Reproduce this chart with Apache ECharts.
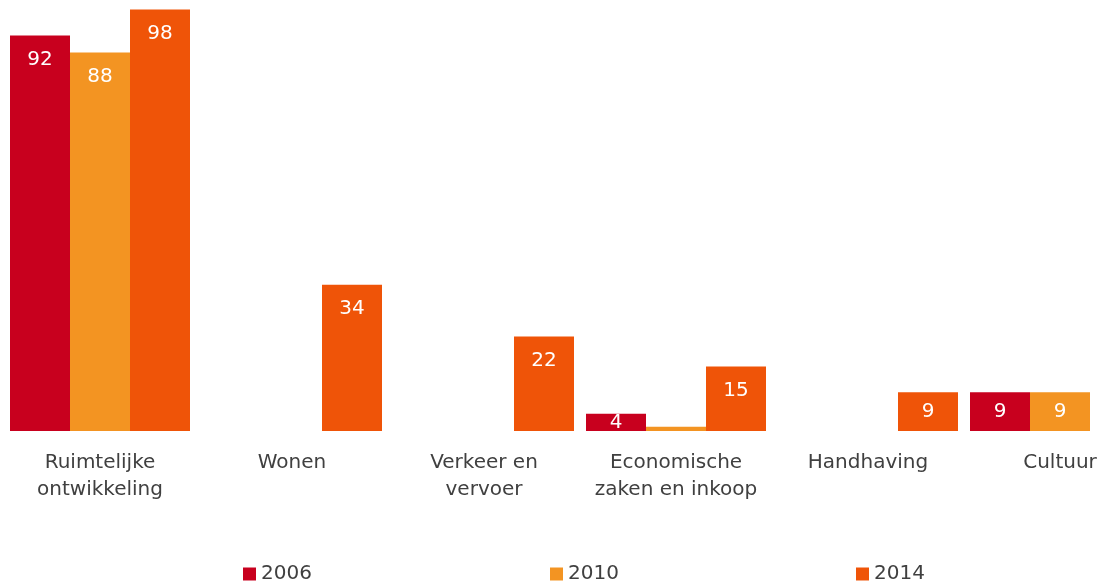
<!DOCTYPE html>
<html>
<head>
<meta charset="utf-8">
<script src="https://cdn.jsdelivr.net/npm/echarts@6/dist/echarts.min.js"></script>
<style>
  html, body { margin: 0; padding: 0; background: #fff; }
  #main { width: 1113px; height: 586px; }
</style>
</head>
<body>
<div id="main"></div>
<script>
// categorieën en waarden
var categories = ["Ruimtelijke\nontwikkeling", "Wonen", "Verkeer en\nvervoer", "Economische\nzaken en inkoop", "Handhaving", "Cultuur"]
var values2006 = [92, "-", "-", 4, "-", 9]
var values2010 = [88, "-", "-", 1, "-", 9]
var values2014 = [98, 34, 22, 15, 9, "-"]

var colors = ["#C8001E", "#F39422", "#EF5408"]
var font = "DejaVu Sans, Verdana, sans-serif"

var chartDom = document.getElementById("main")
var myChart = echarts.init(chartDom)

function barSeries(name, values, color) {
  // lage staven: label in het midden, heel lage staven zonder label
  var data = values.map(function (v) {
    if (v === "-") return v
    if (v < 2) return { value: v, label: { show: false } }
    if (v < 12) return { value: v, label: { position: "inside" } }
    return v
  })
  return {
    name: name,
    type: "bar",
    barWidth: 60,
    barGap: 0,
    itemStyle: { color: color },
    label: {
      show: true,
      position: "insideTop",
      distance: 14,
      color: "#fff",
      fontSize: 20,
      fontFamily: font
    },
    data: data
  }
}

function legendAt(left, name) {
  return {
    data: [name],
    left: left,
    top: 564,
    padding: 0,
    itemWidth: 13,
    itemHeight: 13,
    itemGap: 6,
    icon: "rect",
    textStyle: { fontSize: 20, fontFamily: font, color: "#404040", padding: [3, 0, 0, 0] }
  }
}

var option = {
  animation: false,
  color: colors,
  legend: [legendAt(243, "2006"), legendAt(550, "2010"), legendAt(856, "2014")],
  grid: { left: 4, width: 1152, top: 1, bottom: 155, containLabel: false, outerBoundsMode: "none" },
  xAxis: {
    type: "category",
    data: categories,
    axisLine: { show: false },
    axisTick: { show: false },
    axisLabel: {
      margin: 18,
      interval: 0,
      fontSize: 20,
      lineHeight: 27,
      color: "#404040",
      fontFamily: font
    }
  },
  yAxis: {
    type: "value",
    min: 0,
    max: 100,
    show: false,
    splitLine: { show: false }
  },
  series: [
    barSeries("2006", values2006, colors[0]),
    barSeries("2010", values2010, colors[1]),
    barSeries("2014", values2014, colors[2])
  ]
}

option && myChart.setOption(option)
</script>
</body>
</html>
